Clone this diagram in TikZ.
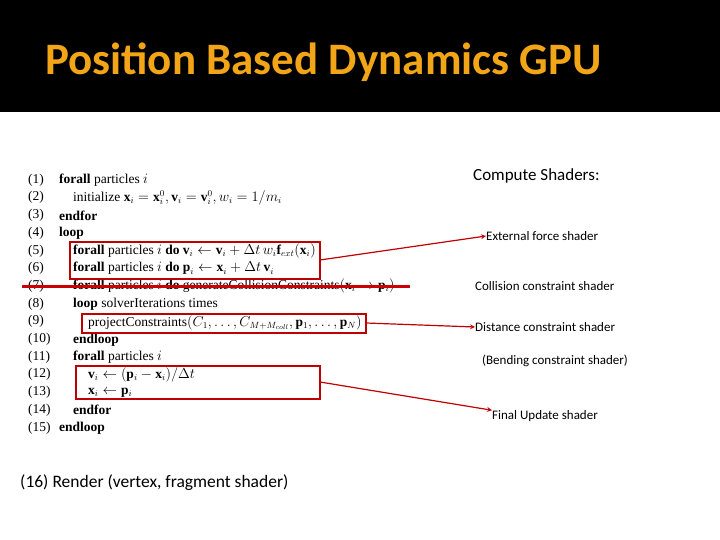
\documentclass[tikz,border=0pt]{standalone}
\usepackage{amsmath}
\usepackage{fontspec}
\setmainfont{Liberation Serif}
\newfontfamily\carl{Carlito}
\definecolor{ttl}{HTML}{F2A516}
\begin{document}
\begin{tikzpicture}[x=1pt,y=-1pt,
  ln/.style={anchor=west,inner sep=0,font=\fontsize{13.5}{14}\selectfont},
  lbl/.style={anchor=west,inner sep=0,font=\carl\fontsize{13}{14}\selectfont},
  rbox/.style={draw=red!75!black,line width=1.3pt},
  arr/.style={draw=red!75!black,line width=1.2pt,-stealth}]
\useasboundingbox (0,0) rectangle (720,540);
\fill[black] (0,0) rectangle (720,112);
\node[anchor=west,inner sep=0,text=ttl,font=\carl\bfseries\fontsize{45}{50}\selectfont] (title) at (45,62) {Position Based Dynamics GPU};
\foreach \n [count=\i] in {(1),(2),(3),(4),(5),(6),(7),(8),(9),(10),(11),(12),(13),(14),(15)}
  \node[ln] (n\i) at (28,{180+(\i-1)*17.7}) {\n};
\node[ln] (t1) at (59,180) {\textbf{forall} particles $i$};
\node[ln] (t2) at (73,197.7) {initialize $\mathbf{x}_i=\mathbf{x}_i^0,\mathbf{v}_i=\mathbf{v}_i^0,w_i=1/m_i$};
\node[ln] (t3) at (59,215.4) {\textbf{endfor}};
\node[ln] (t4) at (59,233.1) {\textbf{loop}};
\node[ln] (t5) at (73,250.8) {\textbf{forall} particles $i$ \textbf{do} $\mathbf{v}_i\leftarrow\mathbf{v}_i+\Delta t\,w_i\mathbf{f}_{ext}(\mathbf{x}_i)$};
\node[ln] (t6) at (73,268.5) {\textbf{forall} particles $i$ \textbf{do} $\mathbf{p}_i\leftarrow\mathbf{x}_i+\Delta t\,\mathbf{v}_i$};
\node[ln] (t7) at (73,286.2) {\textbf{forall} particles $i$ \textbf{do} generateCollisionConstraints$(\mathbf{x}_i\rightarrow\mathbf{p}_i)$};
\node[ln] (t8) at (73,303.9) {\textbf{loop} solverIterations times};
\node[ln] (t9) at (88,322.6) {projectConstraints$(C_1,\ldots,C_{M+M_{coll}},\mathbf{p}_1,\ldots,\mathbf{p}_N)$};
\node[ln] (t10) at (73,340.3) {\textbf{endloop}};
\node[ln] (t11) at (73,357) {\textbf{forall} particles $i$};
\node[ln] (t12) at (88,374.7) {$\mathbf{v}_i\leftarrow(\mathbf{p}_i-\mathbf{x}_i)/\Delta t$};
\node[ln] (t13) at (88,392.4) {$\mathbf{x}_i\leftarrow\mathbf{p}_i$};
\node[ln] (t14) at (73,410.1) {\textbf{endfor}};
\node[ln] (t15) at (59,427.8) {\textbf{endloop}};
\draw[red!80!black,line width=3pt] (22,286) -- (410,286);
\coordinate (b1) at (320,260); \coordinate (b2) at (366,323); \coordinate (b3) at (320,382);
\draw[rbox] (70,242) rectangle (320,279);
\draw[rbox] (82,314) rectangle (366,333);
\draw[rbox] (76,366) rectangle (320,399);
\node[lbl,font=\carl\fontsize{17}{20}\selectfont] (cs) at (473,176) {Compute Shaders:};
\node[lbl] (e) at (486,236) {External force shader};
\node[lbl] (c) at (475,286) {Collision constraint shader};
\node[lbl] (d) at (475,327) {Distance constraint shader};
\node[lbl] (bd) at (482,361) {(Bending constraint shader)};
\node[lbl] (f) at (492,416) {Final Update shader};
\node[lbl,font=\carl\fontsize{17.5}{20}\selectfont] (r) at (20,483) {(16) Render (vertex, fragment shader)};
\draw[arr] (b1) -- (e.west);
\draw[arr] (b2) -- (d.west);
\draw[arr] (b3) -- (f.north west);
\end{tikzpicture}
\end{document}
